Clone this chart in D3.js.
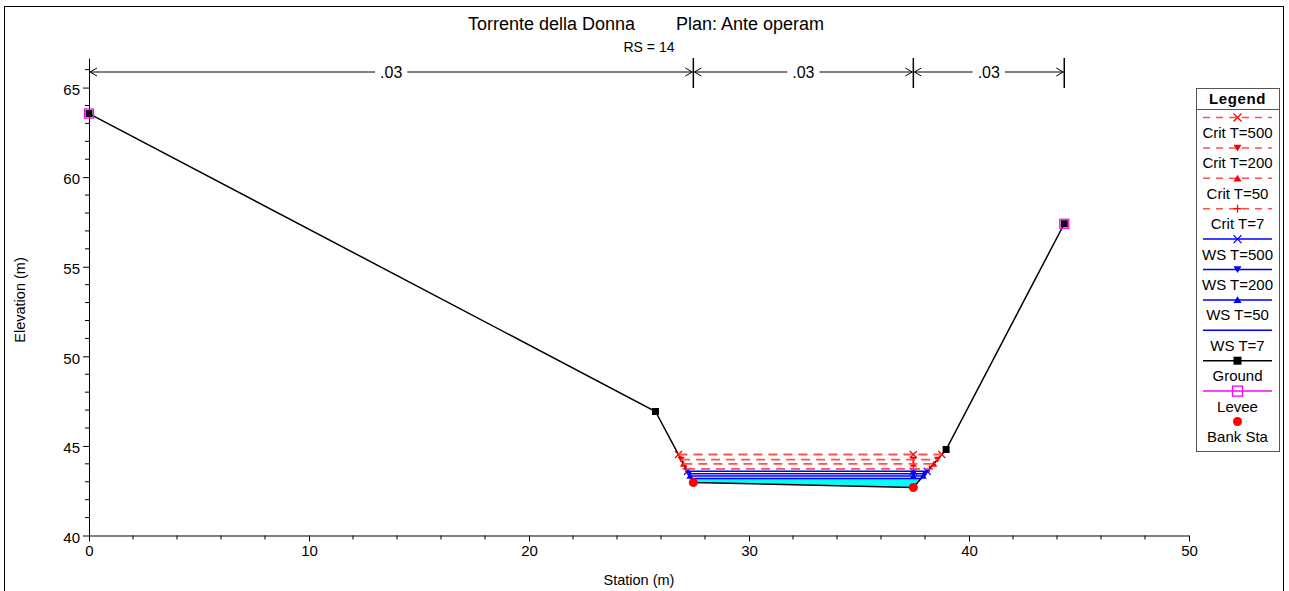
<!DOCTYPE html>
<html><head><meta charset="utf-8">
<script src="https://cdn.jsdelivr.net/npm/d3@7"></script>
<style>
html,body{margin:0;padding:0;background:#fff;}
svg{display:block;font-family:"Liberation Sans",Arial,sans-serif;}
</style></head>
<body><svg id="c" width="1289" height="591"></svg>
<script>
// ---------------- data ----------------
const groundSta  = [0, 25.75, 27.47, 37.47, 38.96, 44.33];
const groundElev = [63.55, 46.92, 42.96, 42.68, 44.8, 57.4];
const leveeSta   = [0, 44.33];
const leveeElev  = [63.55, 57.4];
const bankSta    = [27.47, 37.47];
const bankElev   = [42.96, 42.68];
const critLabels = ["Crit T=500", "Crit T=200", "Crit T=50", "Crit T=7"];
const critElev   = [44.52, 44.24, 44.0, 43.72];
const critMarks  = ["x", "down", "up", "plus"];
const wsLabels   = ["WS T=500", "WS T=200", "WS T=50", "WS T=7"];
const wsElev     = [43.58, 43.45, 43.32, 43.18];
const wsMarks    = ["x", "down", "up", "none"];
const nSta       = [0, 27.47, 37.47, 44.33];
const nValues    = [".03", ".03", ".03"];
const xTicks     = [0, 10, 20, 30, 40, 50];
const yTicks     = [40, 45, 50, 55, 60, 65];
const titleRiver = "Torrente della Donna";
const titlePlan  = "Plan: Ante operam";
const rsText     = "RS = 14";

// ---------------- setup ----------------
const svg = d3.select("#c");
const x = d3.scaleLinear().domain([0, 50]).range([89, 1189]);
const y = d3.scaleLinear().domain([40, 66.65]).range([535.5, 58]);
const FONT = '"Liberation Sans",Arial,sans-serif';

// outer frame
svg.append("rect").attr("x", 4.5).attr("y", 6.5).attr("width", 1279).attr("height", 600)
  .attr("fill", "none").attr("stroke", "#000").attr("stroke-width", 1);

// title
svg.append("text").attr("x", 635).attr("y", 30).attr("text-anchor", "end")
  .attr("font-size", 18).text(titleRiver);
svg.append("text").attr("x", 676).attr("y", 30).attr("text-anchor", "start")
  .attr("font-size", 18).text(titlePlan);
svg.append("text").attr("x", 649).attr("y", 52).attr("text-anchor", "middle")
  .attr("font-size", 14).text(rsText);

// axes
const xAxis = d3.axisBottom(x).tickValues(xTicks).tickSize(6).tickSizeOuter(0).tickPadding(4);
const gx = svg.append("g").attr("transform", "translate(0,535.5)").call(xAxis);
gx.selectAll("text").attr("font-size", 15).attr("font-family", FONT).attr("fill", "#000");
gx.select(".domain").attr("stroke", "#000");
const xMinor = d3.range(0, 50.01, 2).filter(v => !xTicks.includes(v));
gx.selectAll(".minor").data(xMinor).enter().append("line").attr("class", "minor")
  .attr("x1", d => x(d)).attr("x2", d => x(d)).attr("y1", 0).attr("y2", 4).attr("stroke", "#000");

const yAxis = d3.axisLeft(y).tickValues(yTicks).tickSize(6).tickSizeOuter(0).tickPadding(3);
const gy = svg.append("g").attr("transform", "translate(89,0)").call(yAxis);
gy.selectAll("text").attr("font-size", 15).attr("font-family", FONT).attr("fill", "#000").attr("dy", "0.45em");
gy.select(".domain").attr("stroke", "#000");
const yMinor = d3.range(40, 66.01, 1).filter(v => !yTicks.includes(v));
gy.selectAll(".minor").data(yMinor).enter().append("line").attr("class", "minor")
  .attr("x1", -4).attr("x2", 0).attr("y1", d => y(d)).attr("y2", d => y(d)).attr("stroke", "#000");

svg.append("text").attr("x", 639).attr("y", 585).attr("text-anchor", "middle")
  .attr("font-size", 14.5).text("Station (m)");
svg.append("text").attr("transform", "translate(25,300) rotate(-90)").attr("text-anchor", "middle")
  .attr("font-size", 14.5).text("Elevation (m)");

// Manning n arrows
const nY = 72;
nSta.forEach((s, i) => {
  if (i > 0) svg.append("line").attr("x1", x(s)).attr("x2", x(s)).attr("y1", y.range()[1]).attr("y2", 88)
    .attr("stroke", "#000").attr("stroke-width", 1.5);
});
nValues.forEach((v, i) => {
  const a = x(nSta[i]), b = x(nSta[i + 1]), m = (a + b) / 2;
  const t = svg.append("text").attr("x", m).attr("y", nY + 5.5).attr("text-anchor", "middle")
    .attr("font-size", 16).text(v);
  const w = t.node().getComputedTextLength() / 2 + 5;
  svg.append("line").attr("x1", a + 1).attr("x2", m - w).attr("y1", nY).attr("y2", nY).attr("stroke", "#000");
  svg.append("line").attr("x1", m + w).attr("x2", b - 1).attr("y1", nY).attr("y2", nY).attr("stroke", "#000");
  svg.append("path").attr("d", `M${a + 8},${nY - 4}L${a + 1},${nY}L${a + 8},${nY + 4}`).attr("fill", "none").attr("stroke", "#000");
  svg.append("path").attr("d", `M${b - 8},${nY - 4}L${b - 1},${nY}L${b - 8},${nY + 4}`).attr("fill", "none").attr("stroke", "#000");
});

// water extent from ground geometry
function extent(elev) {
  let iMin = groundElev.indexOf(d3.min(groundElev));
  let i = iMin; while (i > 0 && groundElev[i - 1] < elev) i--;
  let j = iMin; while (j < groundElev.length - 1 && groundElev[j + 1] < elev) j++;
  const lerp = (a, b) => groundSta[a] + (elev - groundElev[a]) / (groundElev[b] - groundElev[a]) * (groundSta[b] - groundSta[a]);
  const left = lerp(i - 1, i), right = lerp(j + 1, j);
  const inner = d3.range(i, j + 1).map(k => [groundSta[k], groundElev[k]]);
  return { left, right, inner };
}

// cyan fill under WS T=7
const eLow = extent(wsElev[3]);
const poly = [[eLow.left, wsElev[3]], ...eLow.inner, [eLow.right, wsElev[3]]];
svg.append("path").attr("d", d3.line().x(d => x(d[0])).y(d => y(d[1]))(poly) + "Z")
  .attr("fill", "#00ffff").attr("stroke", "none");

// ground line
svg.append("path").datum(groundSta.map((s, i) => [s, groundElev[i]]))
  .attr("d", d3.line().x(d => x(d[0])).y(d => y(d[1])))
  .attr("fill", "none").attr("stroke", "#000").attr("stroke-width", 1.5);

// marker painter
function marker(g, type, cx, cy, color, s) {
  s = s || 4;
  if (type === "x") g.append("path").attr("d", `M${cx - s},${cy - s}L${cx + s},${cy + s}M${cx - s},${cy + s}L${cx + s},${cy - s}`).attr("stroke", color).attr("stroke-width", 1.3).attr("fill", "none");
  else if (type === "plus") g.append("path").attr("d", `M${cx - s},${cy}L${cx + s},${cy}M${cx},${cy - s}L${cx},${cy + s}`).attr("stroke", color).attr("stroke-width", 1.3).attr("fill", "none");
  else if (type === "down") g.append("path").attr("d", `M${cx - s},${cy - s * 0.8}L${cx + s},${cy - s * 0.8}L${cx},${cy + s * 0.9}Z`).attr("fill", color);
  else if (type === "up") g.append("path").attr("d", `M${cx - s},${cy + s * 0.8}L${cx + s},${cy + s * 0.8}L${cx},${cy - s * 0.9}Z`).attr("fill", color);
  else if (type === "square") g.append("rect").attr("x", cx - s).attr("y", cy - s).attr("width", 2 * s).attr("height", 2 * s).attr("fill", color);
  else if (type === "osquare") g.append("rect").attr("x", cx - s).attr("y", cy - s).attr("width", 2 * s).attr("height", 2 * s).attr("fill", "none").attr("stroke", color).attr("stroke-width", 1.3);
  else if (type === "circle") g.append("circle").attr("cx", cx).attr("cy", cy).attr("r", s).attr("fill", color);
}

const mk = svg.append("g");
// WS lines
wsElev.forEach((e, i) => {
  const ex = extent(e);
  svg.append("line").attr("x1", x(ex.left)).attr("x2", x(ex.right)).attr("y1", y(e)).attr("y2", y(e))
    .attr("stroke", "#0000ff").attr("stroke-width", 1.5);
  if (wsMarks[i] !== "none") [ex.left, bankSta[1], ex.right].forEach(s => marker(mk, wsMarks[i], x(s), y(e), "#0000ff", 3.5));
});
// Crit lines
critElev.forEach((e, i) => {
  const ex = extent(e);
  svg.append("line").attr("x1", x(ex.left)).attr("x2", x(ex.right)).attr("y1", y(e)).attr("y2", y(e))
    .attr("stroke", "#ff5050").attr("stroke-width", 1.8).attr("stroke-dasharray", "9,6");
  [ex.left, bankSta[1], ex.right].forEach(s => marker(mk, critMarks[i], x(s), y(e), "#ff0000", 3.5));
});

// ground squares (not at bank stations)
groundSta.forEach((s, i) => { if (!bankSta.includes(s)) marker(svg, "square", x(s), y(groundElev[i]), "#000", 3.5); });
// levee
leveeSta.forEach((s, i) => marker(svg, "osquare", x(s), y(leveeElev[i]), "#ff00ff", 4.5));
// bank stations
bankSta.forEach((s, i) => marker(svg, "circle", x(s), y(bankElev[i]), "#ff0000", 4.5));

// ---------------- legend ----------------
const L = svg.append("g");
const lx0 = 1196, lx1 = 1279, lcx = (lx0 + lx1) / 2;
L.append("rect").attr("x", lx0 + 0.5).attr("y", 88.5).attr("width", lx1 - lx0).attr("height", 363)
  .attr("fill", "#fff").attr("stroke", "#555").attr("stroke-width", 1);
L.append("text").attr("x", lcx).attr("y", 104).attr("text-anchor", "middle").attr("font-size", 15)
  .attr("font-weight", "bold").attr("letter-spacing", "0.6").text("Legend");
L.append("line").attr("x1", lx0).attr("x2", lx1).attr("y1", 109.5).attr("y2", 109.5).attr("stroke", "#555");

const legendItems = [
  ...critLabels.map((t, i) => ({ t, line: "crit", m: critMarks[i], c: "#ff0000" })),
  ...wsLabels.map((t, i) => ({ t, line: "ws", m: wsMarks[i], c: "#0000ff" })),
  { t: "Ground", line: "ground", m: "square", c: "#000" },
  { t: "Levee", line: "levee", m: "osquare", c: "#ff00ff" },
  { t: "Bank Sta", line: "none", m: "circle", c: "#ff0000" }
];
legendItems.forEach((d, i) => {
  const yy = 117.5 + i * 30.4;
  if (d.line === "crit") L.append("line").attr("x1", 1203).attr("x2", 1272).attr("y1", yy).attr("y2", yy)
    .attr("stroke", "#ff5050").attr("stroke-width", 1.5).attr("stroke-dasharray", "7,6");
  else if (d.line === "ws") L.append("line").attr("x1", 1203).attr("x2", 1272).attr("y1", yy).attr("y2", yy).attr("stroke", "#0000ff").attr("stroke-width", 1.5);
  else if (d.line === "ground") L.append("line").attr("x1", 1203).attr("x2", 1272).attr("y1", yy).attr("y2", yy).attr("stroke", "#000").attr("stroke-width", 1.5);
  else if (d.line === "levee") L.append("line").attr("x1", 1203).attr("x2", 1272).attr("y1", yy).attr("y2", yy).attr("stroke", "#ff00ff").attr("stroke-width", 1.5);
  const sz = d.m === "osquare" ? 5 : (d.m === "circle" ? 4.5 : 4);
  if (d.m !== "none") marker(L, d.m, lcx, yy, d.c, sz);
  L.append("text").attr("x", lcx).attr("y", yy + 20.5).attr("text-anchor", "middle").attr("font-size", 15).text(d.t);
});
</script></body></html>
